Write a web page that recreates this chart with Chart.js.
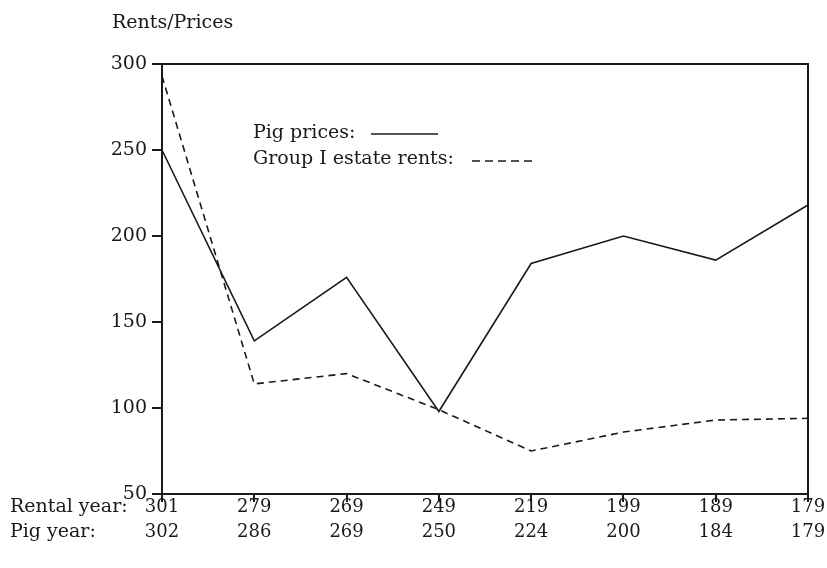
<!DOCTYPE html>
<html>
<head>
<meta charset="utf-8">
<script src="https://cdn.jsdelivr.net/npm/chart.js@4.4.1/dist/chart.umd.min.js"></script>
<style>
  html, body { margin: 0; padding: 0; background: #fff; }
  #wrap { width: 827px; height: 568px; }
</style>
</head>
<body>
<div id="wrap"><canvas id="c" width="827" height="568"></canvas></div>
<script>
// ---- data ----
const rentalYears = ['301', '279', '269', '249', '219', '199', '189', '179'];
const pigYears    = ['302', '286', '269', '250', '224', '200', '184', '179'];
const pigPrices   = [250, 139, 176, 98, 184, 200, 186, 218];
const estateRents = [293, 114, 120, 99, 75, 86, 93, 94];
const yTicks      = [50, 100, 150, 200, 250, 300];
const yTitle      = 'Rents/Prices';
const rowTitles   = ['Rental year:', 'Pig year:'];
const legendNames = ['Pig prices:', 'Group I estate rents:'];

const FONT = '"DejaVu Serif", "Liberation Serif", serif';
const INK = '#1a1a1a';

const labels = rentalYears.map((r, i) => [r, pigYears[i]]);

const decor = {
  id: 'decor',
  afterDraw(chart) {
    const ctx = chart.ctx;
    const a = chart.chartArea;
    ctx.save();
    // frame
    ctx.strokeStyle = INK;
    ctx.lineWidth = 2;
    ctx.strokeRect(a.left, a.top, a.right - a.left, a.bottom - a.top);
    // titles
    ctx.fillStyle = INK;
    ctx.textBaseline = 'middle';
    ctx.textAlign = 'left';
    ctx.font = '19px ' + FONT;
    ctx.fillText(yTitle, 112, 23);
    ctx.fillText(rowTitles[0], 10, 507);
    ctx.fillText(rowTitles[1], 10, 532);
    // legend
    const lx = 253;
    ctx.fillText(legendNames[0], lx, 133);
    ctx.fillText(legendNames[1], lx, 159);
    ctx.lineWidth = 1.5;
    ctx.beginPath();
    ctx.moveTo(371, 134);
    ctx.lineTo(438, 134);
    ctx.stroke();
    ctx.setLineDash([8, 5]);
    ctx.beginPath();
    ctx.moveTo(472, 161);
    ctx.lineTo(535, 161);
    ctx.stroke();
    ctx.restore();
  }
};

new Chart(document.getElementById('c'), {
  type: 'line',
  data: {
    labels: labels,
    datasets: [
      {
        label: legendNames[0],
        data: pigPrices,
        borderColor: INK,
        borderWidth: 1.6,
        pointRadius: 0,
        tension: 0,
        fill: false
      },
      {
        label: legendNames[1],
        data: estateRents,
        borderColor: INK,
        borderWidth: 1.6,
        borderDash: [7, 5],
        pointRadius: 0,
        tension: 0,
        fill: false
      }
    ]
  },
  options: {
    responsive: false,
    animation: false,
    devicePixelRatio: 1,
    layout: { padding: { top: 64, right: 19, bottom: 0, left: 0 } },
    plugins: { legend: { display: false }, tooltip: { enabled: false } },
    scales: {
      x: {
        offset: false,
        grid: { drawOnChartArea: false, color: INK, tickColor: INK, tickWidth: 2, lineWidth: 2, tickLength: 8 },
        border: { display: true, color: INK, width: 2 },
        ticks: {
          color: INK,
          autoSkip: false,
          maxRotation: 0,
          minRotation: 0,
          padding: -7,
          font: { family: FONT, size: 18, lineHeight: 1.39 }
        },
        afterFit(scale) { scale.height = 74; }
      },
      y: {
        min: 50,
        max: 300,
        afterBuildTicks(scale) { scale.ticks = yTicks.map(v => ({ value: v })); },
        grid: { drawOnChartArea: false, color: INK, tickColor: INK, tickWidth: 2, lineWidth: 2, tickLength: 10 },
        border: { display: true, color: INK, width: 2 },
        ticks: {
          color: INK,
          padding: 5,
          font: { family: FONT, size: 19 }
        },
        afterFit(scale) { scale.width = 162; }
      }
    }
  },
  plugins: [decor]
});
</script>
</body>
</html>
